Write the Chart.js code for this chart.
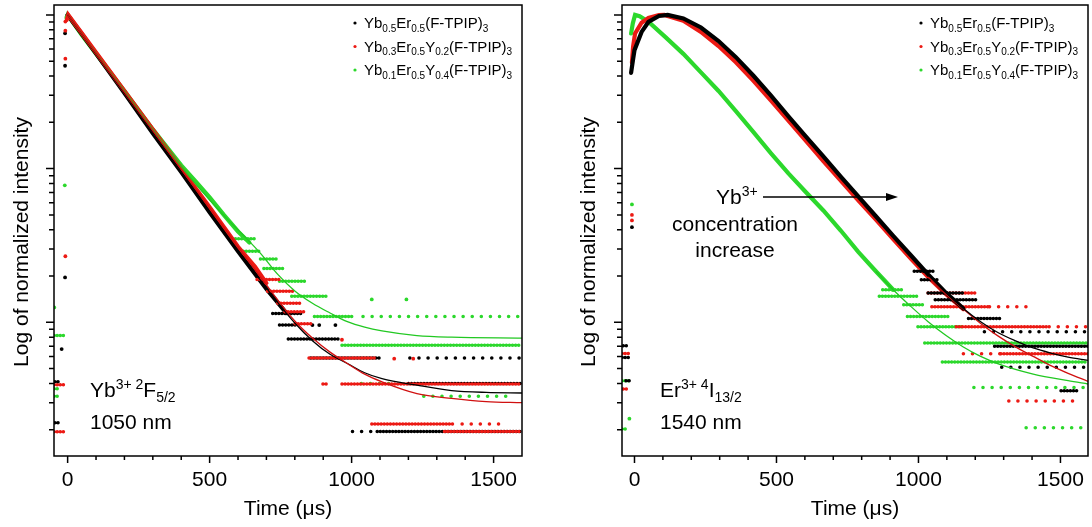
<!DOCTYPE html>
<html>
<head>
<meta charset="utf-8">
<script src="https://cdn.jsdelivr.net/npm/chart.js@4.4.1/dist/chart.umd.min.js"></script>
<style>
  body { margin: 0; background: #fff; }
  #wrap { position: relative; width: 1092px; height: 527px; background: #fff; }
  .panel { position: absolute; top: 0; width: 546px; height: 527px; }
</style>
</head>
<body>
<div id="wrap">
  <div class="panel" style="left:0"><canvas id="ybChart" width="546" height="527"></canvas></div>
  <div class="panel" style="left:546px"><canvas id="erChart" width="546" height="527"></canvas></div>
</div>
<script>
// ---- axes ----
const xMajorTicks = [0, 500, 1000, 1500];
const xMinorTicks = [100, 200, 300, 400, 600, 700, 800, 900, 1100, 1200, 1300, 1400];
const yMajorTicks = [0.01, 0.1, 1];
const yMinorTicks = [0.002, 0.003, 0.004, 0.005, 0.006, 0.007, 0.008, 0.009,
                     0.02, 0.03, 0.04, 0.05, 0.06, 0.07, 0.08, 0.09,
                     0.2, 0.3, 0.4, 0.5, 0.6, 0.7, 0.8, 0.9];
const yMin = 0.00135, yMax = 1.16;

const seriesLabels = [
  "Yb_{0.5}Er_{0.5}(F-TPIP)_{3}",
  "Yb_{0.3}Er_{0.5}Y_{0.2}(F-TPIP)_{3}",
  "Yb_{0.1}Er_{0.5}Y_{0.4}(F-TPIP)_{3}"
];

// ---- Yb3+ 2F5/2, 1050 nm (left) : [time, intensity] ----
const ybBlackDecay = [[0, 1], [50, 0.75], [100, 0.56], [200, 0.31], [300, 0.17], [400, 0.095], [500, 0.052], [600, 0.029], [700, 0.0165], [770, 0.0115]];
const ybRedDecay = [[-3, 0.93], [2, 1], [50, 0.76], [100, 0.57], [200, 0.32], [300, 0.18], [400, 0.1], [500, 0.056], [600, 0.031], [660, 0.023], [700, 0.018]];
const ybGreenDecay = [[-4, 0.96], [0, 1], [50, 0.74], [100, 0.56], [200, 0.32], [300, 0.18], [400, 0.105], [450, 0.083], [500, 0.065], [550, 0.05], [600, 0.039], [640, 0.033]];

const ybBlackFit = [[0, 1], [200, 0.31], [400, 0.096], [600, 0.0295], [700, 0.0167], [800, 0.0099], [862, 0.0076], [924, 0.0062], [985, 0.0054], [1046, 0.0047], [1107, 0.0043], [1230, 0.0039], [1352, 0.0036], [1474, 0.0035], [1600, 0.00347]];
const ybRedFit = [[0, 1], [200, 0.315], [400, 0.099], [600, 0.031], [700, 0.0175], [800, 0.0102], [862, 0.0079], [924, 0.0064], [985, 0.0054], [1046, 0.0046], [1107, 0.0041], [1230, 0.00344], [1352, 0.0032], [1474, 0.00305], [1600, 0.003]];
const ybGreenFit = [[0, 1], [200, 0.32], [400, 0.103], [495, 0.064], [557, 0.048], [618, 0.037], [680, 0.028], [740, 0.0205], [800, 0.016], [862, 0.0133], [924, 0.0115], [985, 0.0101], [1046, 0.0093], [1107, 0.0088], [1230, 0.0082], [1352, 0.008], [1600, 0.0079]];

// runs of quantised points: [from, to, level]
const ybBlackRuns = [[722, 826, 0.0114], [746, 801, 0.0096], [777, 954, 0.0078], [856, 1101, 0.00585], [1200, 1597, 0.004], [1090, 1597, 0.00195], [-45, -25, 0.00222], [-45, -30, 0.0041]];
const ybBlackSparse = [[1205, 1597, 0.00585], [1003, 1090, 0.00195]];
const ybBlackStray = [[-9, 0.76], [-9, 0.467], [-9, 0.0196], [-21, 0.0067], [862, 0.0096], [886, 0.0096], [943, 0.0096]];

const ybRedRuns = [[667, 752, 0.019], [704, 802, 0.0159], [740, 826, 0.0133], [765, 832, 0.0117], [801, 862, 0.0098], [850, 1083, 0.00585], [899, 911, 0.00397], [966, 1597, 0.00397], [1071, 1364, 0.00218], [1327, 1597, 0.00195], [-48, -10, 0.00392], [-48, -10, 0.00194]];
const ybRedSparse = [[1389, 1548, 0.00218]];
const ybRedStray = [[-8, 0.905], [-8, 0.79], [-8, 0.519], [-8, 0.0269], [1150, 0.0058], [1217, 0.0058], [966, 0.0077]];

const ybGreenRuns = [[569, 661, 0.035], [618, 679, 0.029], [679, 734, 0.0258], [691, 765, 0.0224], [746, 844, 0.0185], [789, 918, 0.0148], [869, 1009, 0.0109], [966, 1597, 0.0071], [-48, -10, 0.0082], [-48, -35, 0.0033], [-48, -30, 0.0037]];
const ybGreenSparse = [[1040, 1597, 0.0109], [1034, 1144, 0.004], [1254, 1572, 0.0033]];
const ybGreenStray = [[-10, 0.0778], [-47, 0.0125], [1071, 0.0141], [1193, 0.0141]];

// ---- Er3+ 4I13/2, 1540 nm (right) ----
const erBlackDecay = [[-12, 0.42], [-6, 0.5], [0, 0.59], [25, 0.775], [49, 0.9], [86, 0.985], [117, 1], [172, 0.949], [234, 0.828], [296, 0.676], [357, 0.531], [419, 0.402], [480, 0.3], [542, 0.219], [603, 0.162], [665, 0.12], [727, 0.0883], [788, 0.066], [850, 0.049], [911, 0.0365], [973, 0.0273], [1034, 0.0205], [1096, 0.0156], [1158, 0.0123]];
const erRedDecay = [[-9, 0.49], [-5, 0.62], [2, 0.757], [25, 0.889], [49, 0.954], [86, 0.997], [105, 1], [172, 0.916], [234, 0.775], [296, 0.627], [357, 0.492], [419, 0.373], [480, 0.278], [542, 0.205], [603, 0.152], [665, 0.112], [727, 0.0832], [788, 0.0621], [850, 0.0466], [911, 0.0348], [973, 0.026], [1034, 0.0197], [1096, 0.0153], [1158, 0.0122]];
const erGreenDecay = [[-12, 0.757], [-6, 0.88], [2, 1], [18, 0.98], [49, 0.902], [111, 0.711], [172, 0.558], [234, 0.423], [296, 0.32], [357, 0.237], [419, 0.173], [480, 0.126], [542, 0.093], [603, 0.0705], [665, 0.0534], [727, 0.0394], [788, 0.0287], [850, 0.0215], [911, 0.0163]];

const erBlackFit = [[1034, 0.0205], [1096, 0.0156], [1158, 0.0123], [1219, 0.0101], [1281, 0.00855], [1342, 0.00757], [1404, 0.00681], [1466, 0.00631], [1527, 0.00594], [1597, 0.00565]];
const erRedFit = [[1034, 0.0197], [1096, 0.0153], [1158, 0.0122], [1219, 0.00984], [1281, 0.00813], [1342, 0.00692], [1404, 0.006], [1466, 0.00523], [1527, 0.00466], [1597, 0.00413]];
const erGreenFit = [[850, 0.0215], [911, 0.0163], [973, 0.0127], [1034, 0.0101], [1096, 0.00824], [1158, 0.00691], [1219, 0.006], [1281, 0.00537], [1404, 0.00461], [1527, 0.00417], [1597, 0.00397]];

const erBlackRuns = [[985, 1059, 0.0215], [1010, 1071, 0.0189], [1034, 1158, 0.0155], [1059, 1207, 0.014], [1176, 1293, 0.0106], [1268, 1597, 0.00698], [1502, 1564, 0.00359], [-40, -22, 0.00703], [-44, -18, 0.0059], [-30, -15, 0.00416]];
const erBlackSparse = [[1232, 1597, 0.00867], [1293, 1597, 0.0051]];
const erBlackStray = [[-9, 0.0416]];

const erRedRuns = [[1034, 1207, 0.0155], [1047, 1250, 0.01265], [1133, 1460, 0.00935], [1290, 1597, 0.00624], [-44, -12, 0.00627], [-40, -25, 0.00368]];
const erRedSparse = [[1250, 1404, 0.01265], [1460, 1597, 0.00935], [1158, 1290, 0.00624], [1318, 1564, 0.00308]];
const erRedStray = [[-9, 0.046], [-9, 0.05]];

const erGreenRuns = [[874, 948, 0.0163], [862, 998, 0.0148], [948, 1022, 0.013], [961, 1108, 0.0109], [998, 1158, 0.00935], [1022, 1597, 0.00734], [1084, 1597, 0.00551], [-44, -12, 0.00416], [-44, -25, 0.00202]];
const erGreenSparse = [[1195, 1597, 0.00377], [1379, 1597, 0.00206]];
const erGreenStray = [[-9, 0.0585], [-18, 0.00236]];

const FONT = '"Liberation Sans", Arial, Helvetica, sans-serif';
const BLACK = "#000000", RED = "#ec1a14", GREEN = "#2cd82c";

// text with _{sub} and ^{sup}
function drawRich(ctx, text, x, y, size, align) {
  const parts = [];
  const re = /([_^])\{([^}]*)\}|([^_^]+)/g;
  let m;
  while ((m = re.exec(text))) {
    if (m[3]) parts.push({ t: m[3], k: "" });
    else parts.push({ t: m[2], k: m[1] });
  }
  const small = Math.round(size * 0.68);
  const fontFor = k => (k ? small : size) + "px " + FONT;
  let w = 0;
  parts.forEach(p => { ctx.font = fontFor(p.k); p.w = ctx.measureText(p.t).width; w += p.w; });
  let cx = align === "center" ? x - w / 2 : x;
  ctx.textAlign = "left";
  ctx.textBaseline = "alphabetic";
  parts.forEach(p => {
    ctx.font = fontFor(p.k);
    const dy = p.k === "_" ? size * 0.25 : p.k === "^" ? -size * 0.36 : 0;
    ctx.fillText(p.t, cx, y + dy);
    cx += p.w;
  });
}

const pts = arr => arr.map(([x, y]) => ({ x, y }));
const runPts = runs => {
  const out = [];
  runs.forEach(([a, b, y]) => { out.push({ x: a, y }, { x: b, y }, { x: b, y: null }); });
  return out;
};

function seriesSets(color, fitColor, decay, runs, sparse, stray, fit, order) {
  return [
    { data: pts(decay), showLine: true, borderColor: color, borderWidth: 4.2, borderCapStyle: "round", pointRadius: 0, order },
    { data: runPts(runs), showLine: true, spanGaps: false, borderColor: color, borderWidth: 3.5, borderCapStyle: "round", borderDash: [0.1, 3], pointRadius: 0, order },
    { data: runPts(sparse), showLine: true, spanGaps: false, borderColor: color, borderWidth: 3.5, borderCapStyle: "round", borderDash: [0.1, 9], pointRadius: 0, order },
    { data: pts(stray), showLine: false, pointRadius: 1.9, pointBorderWidth: 0, pointBackgroundColor: color, order },
    { data: pts(fit), showLine: true, borderColor: fitColor, borderWidth: 1.3, pointRadius: 0, cubicInterpolationMode: "monotone", order: 0 }
  ];
}

const framePlugin = {
  id: "frame",
  afterDraw(chart, args, opts) {
    const ctx = chart.ctx, a = chart.chartArea;
    const xs = chart.scales.x, ys = chart.scales.y;
    ctx.save();
    ctx.strokeStyle = "#000";
    ctx.fillStyle = "#000";
    ctx.lineWidth = 1.5;
    ctx.strokeRect(a.left, a.top, a.right - a.left, a.bottom - a.top);
    ctx.beginPath();
    xMajorTicks.forEach(v => { const p = xs.getPixelForValue(v); ctx.moveTo(p, a.bottom); ctx.lineTo(p, a.bottom + 7); });
    xMinorTicks.forEach(v => { const p = xs.getPixelForValue(v); ctx.moveTo(p, a.bottom); ctx.lineTo(p, a.bottom + 4); });
    yMajorTicks.forEach(v => { const p = ys.getPixelForValue(v); ctx.moveTo(a.left, p); ctx.lineTo(a.left - 8, p); });
    yMinorTicks.forEach(v => { const p = ys.getPixelForValue(v); ctx.moveTo(a.left, p); ctx.lineTo(a.left - 5, p); });
    ctx.stroke();

    ctx.font = "21px " + FONT;
    ctx.textAlign = "center";
    ctx.textBaseline = "alphabetic";
    xMajorTicks.forEach(v => ctx.fillText(String(v), xs.getPixelForValue(v), 486));
    ctx.fillText("Time (\u03bcs)", (a.left + a.right) / 2, 515);

    ctx.save();
    ctx.translate(opts.yTitleX, 242);
    ctx.rotate(-Math.PI / 2);
    ctx.textBaseline = "middle";
    ctx.fillText("Log of normalized intensity", 0, 0);
    ctx.restore();

    // legend
    const lx = a.right - 158;
    seriesLabels.forEach((lab, i) => {
      const by = a.top + 23 + i * 23.5;
      ctx.fillStyle = [BLACK, RED, GREEN][i];
      ctx.beginPath();
      ctx.arc(lx - 9, by - 5, 1.6, 0, Math.PI * 2);
      ctx.fill();
      ctx.fillStyle = "#000";
      drawRich(ctx, lab, lx, by, 15);
    });

    // notes
    opts.notes.forEach(n => drawRich(ctx, n.text, n.x, n.y, 21, n.align));
    if (opts.arrow) {
      const [x1, x2, y] = opts.arrow;
      ctx.lineWidth = 1.4;
      ctx.beginPath(); ctx.moveTo(x1, y); ctx.lineTo(x2 - 10, y); ctx.stroke();
      ctx.beginPath(); ctx.moveTo(x2, y); ctx.lineTo(x2 - 12, y - 4); ctx.lineTo(x2 - 12, y + 4); ctx.closePath(); ctx.fill();
    }
    ctx.restore();
  }
};

function makeChart(id, sets, xMin, xMax, padding, frameOpts) {
  return new Chart(document.getElementById(id), {
    type: "scatter",
    data: { datasets: sets },
    options: {
      responsive: false,
      animation: false,
      devicePixelRatio: 1,
      events: [],
      layout: { padding },
      scales: {
        x: { type: "linear", min: xMin, max: xMax, display: false },
        y: { type: "logarithmic", min: yMin, max: yMax, display: false }
      },
      plugins: { legend: { display: false }, tooltip: { enabled: false }, frame: frameOpts }
    },
    plugins: [framePlugin]
  });
}

makeChart("ybChart", [
  ...seriesSets(RED, "#d01010", ybRedDecay, ybRedRuns, ybRedSparse, ybRedStray, ybRedFit, 1),
  ...seriesSets(BLACK, "#000000", ybBlackDecay, ybBlackRuns, ybBlackSparse, ybBlackStray, ybBlackFit, 2),
  ...seriesSets(GREEN, "#22c822", ybGreenDecay, ybGreenRuns, ybGreenSparse, ybGreenStray, ybGreenFit, 3)
], -48, 1600, { left: 54, right: 24, top: 5, bottom: 71 }, {
  yTitleX: 22,
  notes: [
    { text: "Yb^{3+ 2}F_{5/2}", x: 90, y: 397 },
    { text: "1050 nm", x: 90, y: 429 }
  ]
});

makeChart("erChart", [
  ...seriesSets(BLACK, "#000000", erBlackDecay, erBlackRuns, erBlackSparse, erBlackStray, erBlackFit, 1),
  ...seriesSets(RED, "#d01010", erRedDecay, erRedRuns, erRedSparse, erRedStray, erRedFit, 2),
  ...seriesSets(GREEN, "#22c822", erGreenDecay, erGreenRuns, erGreenSparse, erGreenStray, erGreenFit, 3)
], -44, 1597, { left: 76, right: 3, top: 5, bottom: 71 }, {
  yTitleX: 43,
  notes: [
    { text: "Er^{3+ 4}I_{13/2}", x: 114, y: 397 },
    { text: "1540 nm", x: 114, y: 429 },
    { text: "Yb^{3+}", x: 170, y: 204 },
    { text: "concentration", x: 189, y: 231, align: "center" },
    { text: "increase", x: 189, y: 257, align: "center" }
  ],
  arrow: [217, 352, 197]
});
</script>
</body>
</html>
